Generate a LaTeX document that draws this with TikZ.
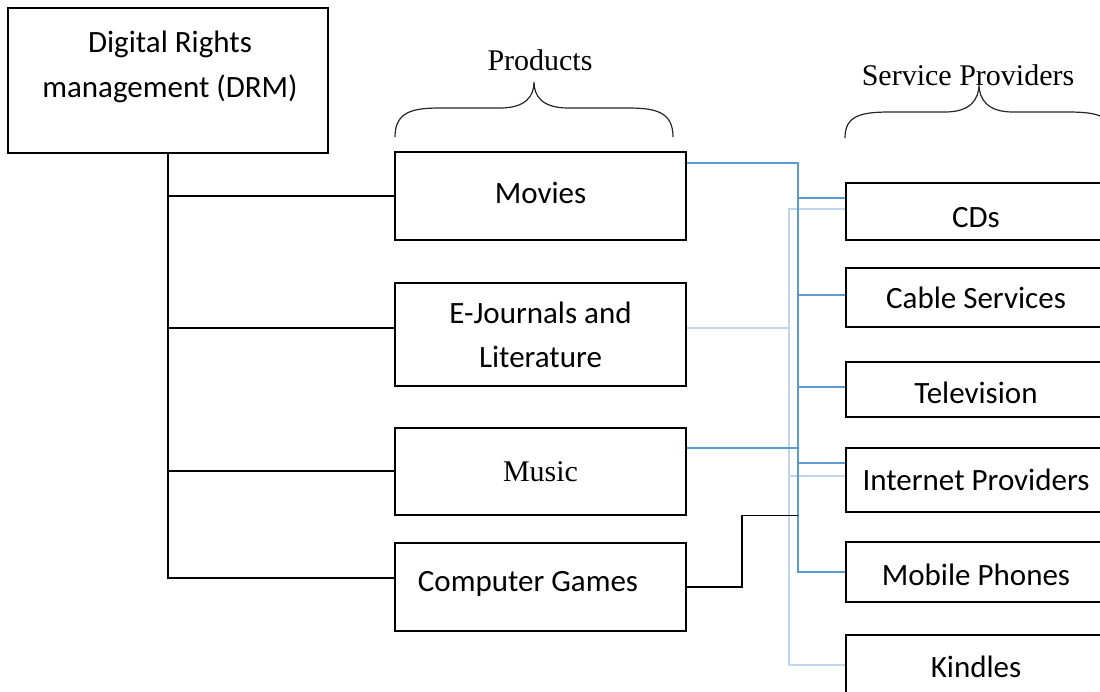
\documentclass[tikz,border=0pt]{standalone}
\usepackage{fontspec}
\setmainfont{Carlito}
\newfontfamily\serifface{Liberation Serif}
\definecolor{linkblue}{RGB}{91,155,213}
\definecolor{faintblue}{RGB}{192,213,238}
\newcommand\dropby[2]{\raisebox{-#1}[\height][\depth]{#2}}
\begin{document}
\begin{tikzpicture}[%
  x = 1pt, y = -1pt,
  box/.style = {rectangle, draw, line width = 2.4pt, inner sep = 0pt,
    align = center, font = \fontsize{31}{44}\selectfont},
  prod/.style = {box, minimum width = 291pt},
  serv/.style = {box, minimum width = 260pt},
  head/.style = {font = \serifface\fontsize{30}{36}\selectfont},
  tree/.style = {line width = 1.3pt},
  link/.style = {linkblue, line width = 1.3pt},
  faint/.style = {faintblue, line width = 1.3pt},
  brace/.style = {line width = 1.2pt, black!85}]
  \useasboundingbox (0, 0) rectangle (1100, 691);
  \clip (0, 0) rectangle (1100, 691);

  \node[box, minimum width = 320pt, minimum height = 145pt] (drm) at (168, 80.5) {};
  \node[font = \fontsize{31}{45}\selectfont, align = center] (drmtext) at (170, 67)
    {Digital Rights\\management (DRM)};

  \node[prod, minimum height = 88pt]  (movies)   at (540.5, 196)   {\dropby{-3pt}{Movies}};
  \node[prod, minimum height = 103pt] (journals) at (540.5, 334.5) {E-Journals and\\Literature};
  \node[prod, minimum height = 87pt, font = \serifface\fontsize{30}{36}\selectfont]
    (music) at (540.5, 471.5) {Music};
  \node[prod, minimum height = 88pt]  (games)    at (540.5, 587)   {};
  \node[font = \fontsize{31}{36}\selectfont] (gamestext) at (528, 584) {Computer Games};

  \node[serv, minimum height = 57pt] (cds)      at (976, 211.5) {\dropby{6pt}{CDs}};
  \node[serv, minimum height = 59pt] (cable)    at (976, 297.5) {Cable Services};
  \node[serv, minimum height = 55pt] (tv)       at (976, 389.5) {\dropby{3pt}{Television}};
  \node[serv, minimum height = 64pt] (internet) at (976, 480)   {Internet Providers};
  \node[serv, minimum height = 60pt] (mobile)   at (976, 572)   {\dropby{3pt}{Mobile Phones}};
  \node[serv, minimum height = 60pt] (kindles)  at (976, 665)   {\dropby{2pt}{Kindles}};

  \node[head] (products) at (540, 60) {Products};
  \node[head] (providers) at (968, 75) {Service Providers};

  \draw[brace] (395, 137) .. controls (395, 112) and (412, 108) .. (440, 108)
    -- (500, 108) .. controls (526, 108) and (534, 96) .. (534, 82)
    .. controls (534, 96) and (542, 108) .. (568, 108)
    -- (628, 108) .. controls (656, 108) and (673, 112) .. (673, 137);
  \draw[brace] (845, 138) .. controls (845, 116) and (860, 112) .. (890, 112)
    -- (945, 112) .. controls (970, 112) and (979, 100) .. (979, 84)
    .. controls (979, 100) and (988, 112) .. (1013, 112)
    -- (1068, 112) .. controls (1098, 112) and (1113, 116) .. (1113, 138);

  \coordinate (journalsin) at ([yshift = 6.5pt]journals.west);
  \coordinate (musicin) at ([yshift = 0.5pt]music.west);
  \coordinate (gamesin) at ([yshift = 9pt]games.west);
  \draw[tree] (drm.south) |- (gamesin);
  \draw[tree] (drm.south |- movies.west) -- (movies.west);
  \draw[tree] (drm.south |- journalsin) -- (journalsin);
  \draw[tree] (drm.south |- musicin) -- (musicin);

  \coordinate (bus) at (798, 0);
  \coordinate (side) at (789, 0);
  \coordinate (hop) at (742, 0);
  \coordinate (moviesout) at ([yshift = 33pt]movies.east);
  \coordinate (musicout) at ([yshift = 23.5pt]music.east);
  \coordinate (gamesup) at ([yshift = 0.5pt]music.south);
  \coordinate (journalsout) at ([yshift = 6.5pt]journals.east);
  \coordinate (cdsa) at ([yshift = 13.5pt]cds.west);
  \coordinate (cdsb) at ([yshift = 2.5pt]cds.west);
  \coordinate (cablein) at ([yshift = 2.5pt]cable.west);
  \coordinate (tvin) at ([yshift = 2.5pt]tv.west);
  \coordinate (neta) at ([yshift = 17pt]internet.west);
  \coordinate (netb) at ([yshift = 4pt]internet.west);

  \draw[faint] (journalsout) -- (side |- journalsout);
  \draw[faint] (cdsb) -| (side |- kindles.west) -- (kindles.west);
  \draw[faint] (side |- netb) -- (netb);

  \draw[link] (moviesout) -| (bus |- mobile.west) -- (mobile.west);
  \draw[link] (musicout) -- (bus |- musicout);
  \foreach \port in {cdsa, cablein, tvin, neta}
    \draw[link] (bus |- \port) -- (\port);

  \draw[tree] (games.east) -| (hop |- gamesup) -- (bus |- gamesup);
\end{tikzpicture}
\end{document}
